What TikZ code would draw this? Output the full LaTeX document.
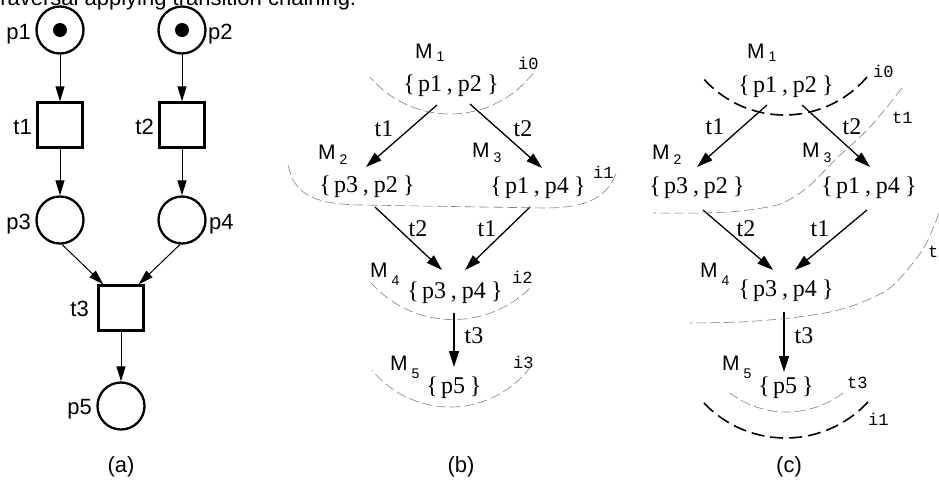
\documentclass[tikz,border=0pt]{standalone}
\usepackage{fontspec}
\setmainfont{Liberation Serif}
\setsansfont{Liberation Sans}
\setmonofont{Liberation Mono}
\usetikzlibrary{arrows.meta}
\newcommand{\mksp}{\hspace{5pt}}
\newcommand{\mkA}{\hspace{3pt}}
\newcommand{\Mlab}[2]{M\kern4pt\raisebox{-#2pt}{\fontsize{14}{14}\selectfont #1}}
\begin{document}
\begin{tikzpicture}[x=1pt,y=-1pt,
  place/.style={circle,draw,line width=2.3pt,minimum size=47pt,inner sep=0pt},
  trans/.style={rectangle,draw,line width=2.3pt,minimum size=45pt,inner sep=0pt},
  token/.style={circle,fill,minimum size=14pt,inner sep=0pt},
  sflab/.style={font=\sffamily\fontsize{22}{22}\selectfont,inner sep=0pt},
  mk/.style={font=\fontsize{24}{24}\selectfont,inner sep=0pt,anchor=base},
  tl/.style={font=\fontsize{24}{24}\selectfont,inner sep=0pt,anchor=base},
  ml/.style={font=\sffamily\fontsize{21}{21}\selectfont,inner sep=0pt,anchor=base west},
  ttl/.style={font=\ttfamily\fontsize{17}{17}\selectfont,inner sep=0pt,anchor=base west},
  parr/.style={line width=1pt,-{Triangle[length=15pt,width=9pt]}},
  garr/.style={line width=1.3pt,-{Triangle[length=16pt,width=10pt]}},
  thincut/.style={gray,line width=0.6pt,dash pattern=on 10pt off 4pt},
  thickcut/.style={black,line width=1.6pt,dash pattern=on 13pt off 6pt}]
\useasboundingbox (0,0) rectangle (939,491);
\node[sflab,anchor=base west] (cap) at (-6,5) {traversal applying transition chaining.};
% ---------- (a)
\node[place] (p1) at (60,30) {};
\node[token] (k1) at (p1) {};
\node[place] (p2) at (182,30) {};
\node[token] (k2) at (p2) {};
\node[trans] (t1) at (60,125) {};
\node[trans] (t2) at (182,125) {};
\node[place] (p3) at (60,220) {};
\node[place] (p4) at (182,220) {};
\node[trans] (t3) at (121,308) {};
\node[place] (p5) at (121,406) {};
\node[sflab,anchor=base east] (lp1) at (31,39) {p1};
\node[sflab,anchor=base west] (lp2) at (208,39) {p2};
\node[sflab,anchor=base east] (lt1) at (32,134) {t1};
\node[sflab,anchor=base east] (lt2) at (154,134) {t2};
\node[sflab,anchor=base east] (lp3) at (31,229) {p3};
\node[sflab,anchor=base west] (lp4) at (209,229) {p4};
\node[sflab,anchor=base east] (lt3) at (89,316) {t3};
\node[sflab,anchor=base east] (lp5) at (92,414) {p5};
\draw[parr] (p1) -- (t1);
\draw[parr] (p2) -- (t2);
\draw[parr] (t1) -- (p3);
\draw[parr] (t2) -- (p4);
\draw[parr] (p3.-85) -- ([xshift=6pt]t3.north west);
\draw[parr] (p4.-95) -- ([xshift=-6pt]t3.north east);
\draw[parr] (t3) -- (p5);
% ---------- (b)
\node[ml] (bM1) at (415,58) {\Mlab{1}{3}};
\node[mk] (b1) at (451,91) {\{\mkA p1\mksp,\mksp p2\mksp\}};
\node[ml] (bM2) at (318,159) {\Mlab{2}{5}};
\node[mk] (b2) at (367,192) {\{\mkA p3\mksp,\mksp p2\mksp\}};
\node[ml] (bM3) at (472,157) {\Mlab{3}{5}};
\node[mk] (b3) at (538,193) {\{\mkA p1\mksp,\mksp p4\mksp\}};
\node[ml] (bM4) at (370,277) {\Mlab{4}{8}};
\node[mk] (b4) at (455,298) {\{\mkA p3\mksp,\mksp p4\mksp\}};
\node[ml] (bM5) at (390,370) {\Mlab{5}{8}};
\node[mk] (b5) at (454,393) {\{\mkA p5\mksp\}};
\coordinate (b1l) at (437,105); \coordinate (b2t) at (366,167);
\coordinate (b1r) at (470,104); \coordinate (b3t) at (542,168);
\coordinate (b2b) at (375,207); \coordinate (b4l) at (442,270);
\coordinate (b3b) at (530,207); \coordinate (b4r) at (465,270);
\coordinate (b4b) at (454,313); \coordinate (b5t) at (454,367);
\draw[garr] (b1l) -- (b2t);
\draw[garr] (b1r) -- (b3t);
\draw[garr] (b2b) -- (b4l);
\draw[garr] (b3b) -- (b4r);
\draw[garr] (b4b) -- (b5t);
\node[tl] (bt1) at (384,136) {t1};
\node[tl] (bt2) at (523,136) {t2};
\node[tl] (bt2b) at (418,236) {t2};
\node[tl] (bt1b) at (487,236) {t1};
\node[tl] (bt3) at (474,343) {t3};
\node[ttl] (bi0) at (518,69) {i0};
\node[ttl] (bi1) at (593,178) {i1};
\node[ttl] (bi2) at (512,283) {i2};
\node[ttl] (bi3) at (513,368) {i3};
\draw[thincut] plot[domain=37.6:139.6,samples=60] ({450+105*cos(\x)},{9+105*sin(\x)});
\draw[thincut] (288,165) .. controls (294,195) and (315,204) .. (360,205) -- (545,208) .. controls (590,208) and (610,195) .. (617,170);
\draw[thincut] plot[domain=45.7:139,samples=60] ({453+109.6*cos(\x)},{210+109.6*sin(\x)});
\draw[thincut] plot[domain=36.6:140.6,samples=60] ({450+101*cos(\x)},{306+101*sin(\x)});
% ---------- (c)
\node[ml] (cM1) at (747,58) {\Mlab{1}{3}};
\node[mk] (c1) at (786,92) {\{\mkA p1\mksp,\mksp p2\mksp\}};
\node[ml] (cM2) at (652,159) {\Mlab{2}{5}};
\node[mk] (c2) at (697,193) {\{\mkA p3\mksp,\mksp p2\mksp\}};
\node[ml] (cM3) at (802,157) {\Mlab{3}{5}};
\node[mk] (c3) at (869,193) {\{\mkA p1\mksp,\mksp p4\mksp\}};
\node[ml] (cM4) at (700,277) {\Mlab{4}{8}};
\node[mk] (c4) at (786,296) {\{\mkA p3\mksp,\mksp p4\mksp\}};
\node[ml] (cM5) at (722,370) {\Mlab{5}{8}};
\node[mk] (c5) at (786,393) {\{\mkA p5\mksp\}};
\coordinate (c1l) at (767,105); \coordinate (c2t) at (697,167);
\coordinate (c1r) at (802,105); \coordinate (c3t) at (870,167);
\coordinate (c2b) at (703,210); \coordinate (c4l) at (773,270);
\coordinate (c3b) at (867,210); \coordinate (c4r) at (795,270);
\coordinate (c4b) at (784,312); \coordinate (c5t) at (784,372);
\draw[garr] (c1l) -- (c2t);
\draw[garr] (c1r) -- (c3t);
\draw[garr] (c2b) -- (c4l);
\draw[garr] (c3b) -- (c4r);
\draw[garr] (c4b) -- (c5t);
\node[tl] (ct1) at (715,134) {t1};
\node[tl] (ct2) at (852,134) {t2};
\node[tl] (ct2b) at (746,236) {t2};
\node[tl] (ct1b) at (820,236) {t1};
\node[tl] (ct3) at (804,343) {t3};
\node[ttl] (ci0) at (873,77) {i0};
\node[ttl] (cct1) at (892,123) {t1};
\node[ttl] (cct2) at (928,257) {t2};
\node[ttl] (cct3) at (847,388) {t3};
\node[ttl] (ci1) at (868,425) {i1};
\draw[thickcut] plot[domain=40.5:139.5,samples=60] ({784.5+108.5*cos(\x)},{6.5+108.5*sin(\x)});
\draw[thincut] plot[smooth] coordinates {(902,88) (870,127) (835,160) (808,187) (780,204) (740,211) (700,213) (653,213)};
\draw[thincut] plot[smooth] coordinates {(944,200) (928,240) (913,263) (890,288) (860,303) (830,312) (790,318) (740,322) (690,323)};
\draw[thincut] plot[domain=52.8:127.2,samples=50] ({786.5+93.5*cos(\x)},{318.5+93.5*sin(\x)});
\draw[thickcut] plot[domain=42.8:137.2,samples=60] ({785.5+112.5*cos(\x)},{325.5+112.5*sin(\x)});
% ---------- captions
\node[sflab] (ca) at (121,467) {(a)};
\node[sflab] (cb) at (461,467) {(b)};
\node[sflab] (cc) at (789,467) {(c)};
\end{tikzpicture}
\end{document}
